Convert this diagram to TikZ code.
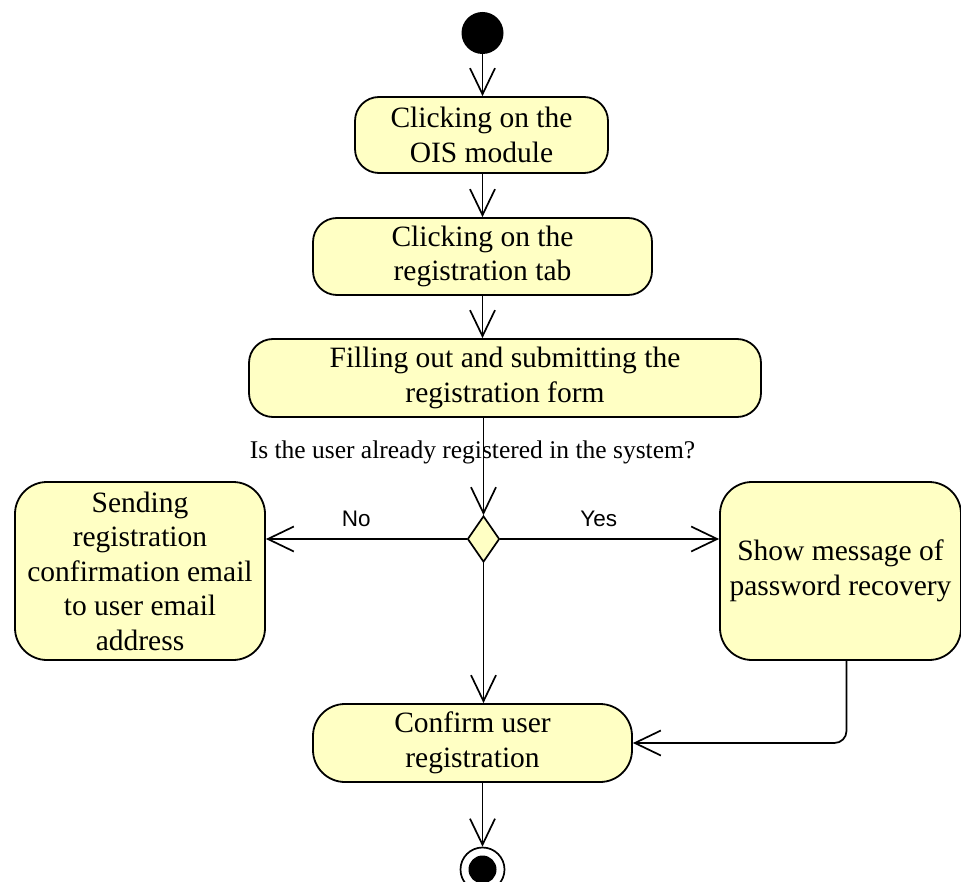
\documentclass[tikz,border=0pt]{standalone}
\usepackage{fontspec}
\setmainfont{Liberation Serif}
\newfontfamily\choicefont{Liberation Sans}
\usepackage{tikz}
\usetikzlibrary{arrows.meta}
\usetikzlibrary{shapes.geometric}
\definecolor{actfill}{RGB}{255,255,196}
\tikzset{
  act/.style={draw, fill=actfill, line width=1.8pt, rounded corners=24pt,
              align=center, inner sep=0pt,
              font=\fontsize{29.5}{34.5}\selectfont},
  flow/.style={line width=1.7pt,
               -{Straight Barb[length=26pt,width=25pt,line width=1.7pt]}},
  choice/.style={font=\choicefont\fontsize{22.5}{24}\selectfont}
}

\begin{document}
\begin{tikzpicture}[x=1pt,y=-1pt]
  \useasboundingbox (0,0) rectangle (961,882);
  \node[circle, fill=black, minimum size=42pt, inner sep=0pt] (start) at (482.5,33) {};
  \node[act, minimum width=253pt, minimum height=76pt] (ois) at (481.5,135)
    {Clicking on the\\OIS module};
  \node[act, minimum width=339pt, minimum height=77pt] (tab) at (482.5,256.5)
    {Clicking on the\\registration tab};
  \node[act, minimum width=512pt, minimum height=78pt] (form) at (505,378)
    {Filling out and submitting the\\registration form};
  \node[font=\fontsize{25.5}{30}\selectfont] (question) at (472.5,452)
    {Is the user already registered in the system?};
  \node[diamond, draw, fill=actfill, line width=1.7pt, inner sep=0pt,
        minimum width=32pt, minimum height=46pt] (dec) at (483.5,539) {};
  \node[act, rounded corners=32pt, minimum width=250pt, minimum height=178pt] (sendmail) at (140,571)
    {Sending\\registration\\confirmation email\\to user email\\address};
  \node[act, rounded corners=32pt, minimum width=241pt, minimum height=178pt] (recov) at (840.5,571)
    {Show message of\\password recovery};
  \node[act, rounded corners=32pt, minimum width=319pt, minimum height=78pt] (confirm) at (472.5,743)
    {Confirm user\\registration};
  \node[circle, draw, line width=1.7pt, minimum size=44pt, inner sep=0pt] (final) at (482.5,869.5) {};
  \node[circle, fill=black, minimum size=28pt, inner sep=0pt] (finaldot) at (final) {};

  \path[flow]
    (start) edge (start |- ois.north)
    (ois.south -| start) edge (start |- tab.north)
    (tab.south -| start) edge (start |- form.north)
    (form.south -| dec.north) edge (dec.north)
    (dec.west) edge node[choice, above=8pt, pos=0.55] {No} (dec.west -| sendmail.east)
    (dec.east) edge node[choice, above=8pt, pos=0.45] {Yes} (dec.east -| recov.west)
    (dec.south) edge (dec.south |- confirm.north)
    (confirm.south -| final.north) edge (final.north);
  \draw[flow, rounded corners=12pt] ([xshift=6pt]recov.south) |- (confirm.east);
\end{tikzpicture}
\end{document}
